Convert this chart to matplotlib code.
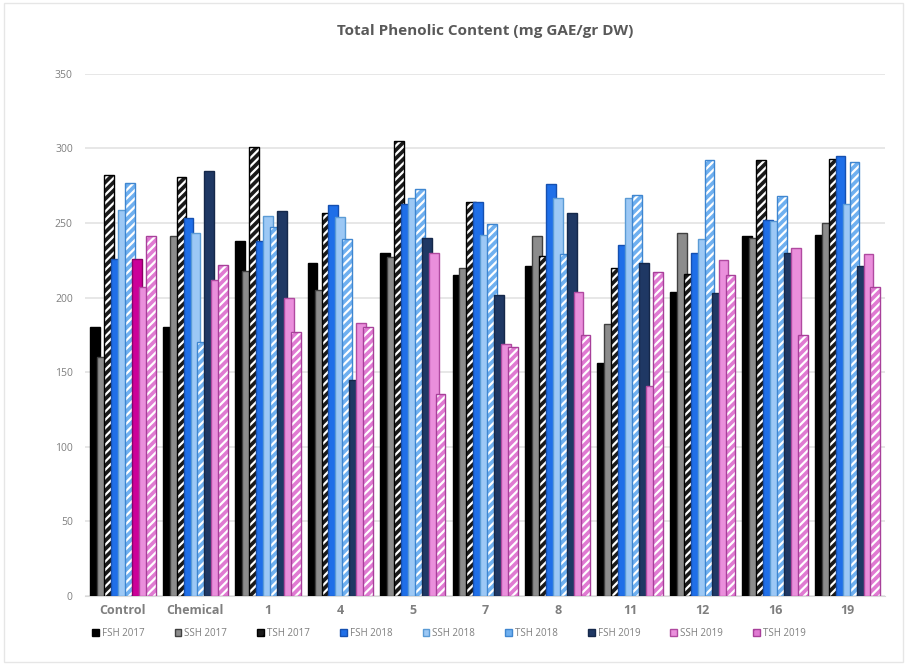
# Total phenolic content grouped bar chart
import matplotlib.pyplot as plt
import numpy as np
from matplotlib.patches import Patch, Rectangle

plt.rcParams['font.family'] = ['Open Sans', 'DejaVu Sans']
plt.rcParams['hatch.linewidth'] = 1.6

# Data
categories = ["Control", "Chemical", "1", "4", "5", "7", "8", "11", "12", "16", "19"]
series_names = ["FSH 2017", "SSH 2017", "TSH 2017", "FSH 2018", "SSH 2018",
                "TSH 2018", "FSH 2019", "SSH 2019", "TSH 2019"]

fsh_2017 = [180, 180, 238, 223, 230, 215, 221, 156, 204, 241, 242]
ssh_2017 = [160, 241, 218, 205, 227, 220, 241, 182, 243, 240, 250]
tsh_2017 = [282, 281, 301, 257, 305, 264, 228, 220, 216, 292, 293]
fsh_2018 = [226, 253, 238, 262, 263, 264, 276, 235, 230, 252, 295]
ssh_2018 = [259, 243, 255, 254, 267, 242, 267, 267, 239, 251, 263]
tsh_2018 = [277, 170, 247, 239, 273, 249, 229, 269, 292, 268, 291]
fsh_2019 = [226, 285, 258, 145, 240, 202, 257, 223, 203, 230, 221]
ssh_2019 = [207, 212, 200, 183, 230, 169, 204, 141, 225, 233, 229]
tsh_2019 = [241, 222, 177, 180, 135, 167, 175, 217, 215, 175, 207]

all_series = [fsh_2017, ssh_2017, tsh_2017, fsh_2018, ssh_2018,
              tsh_2018, fsh_2019, ssh_2019, tsh_2019]

# fill colour, edge colour, hatched or not
styles = [
    ("#000000", "#000000", False),
    ("#8c8c8c", "#404040", False),
    ("#1a1a1a", "#000000", True),
    ("#1f6fe8", "#1550b0", False),
    ("#9cc8f5", "#5b9bd5", False),
    ("#6fb0f0", "#3f86d0", True),
    ("#1f3864", "#15284a", False),
    ("#ea8fdc", "#b04aa0", False),
    ("#e07ad2", "#a8409a", True),
]

x = np.arange(len(categories))
pitch = 0.096
width = 0.135

fig = plt.figure(figsize=(9.07, 6.65), dpi=100)
ax = fig.add_axes([0.094, 0.104, 0.882, 0.785])

for j, (vals, (fc, ec, hatched)) in enumerate(zip(all_series, styles)):
    pos = x + (j - 4) * pitch
    colors = [fc] * len(vals)
    edges = [ec] * len(vals)
    if j == 6:
        # control bar is magenta in the original
        colors[0] = "#cc0099"
        edges[0] = "#8a0066"
    if hatched:
        ax.bar(pos, vals, width, color=colors, edgecolor="white", hatch="////",
               linewidth=0, zorder=3 + j)
        ax.bar(pos, vals, width, fill=False, edgecolor=edges, linewidth=1.0,
               zorder=3 + j)
    else:
        ax.bar(pos, vals, width, color=colors, edgecolor=edges, linewidth=1.0,
               zorder=3 + j)

ax.set_xlim(-0.52, 10.52)
ax.set_ylim(0, 350)
ax.set_yticks(np.arange(0, 351, 50))
ax.set_xticks(x)
ax.set_xticklabels(categories, fontsize=9, fontweight="bold", color="#7f7f7f")
ax.tick_params(axis="y", labelsize=7.5, labelcolor="#7f7f7f", length=0, pad=9)
ax.tick_params(axis="x", length=0, pad=6)
ax.grid(axis="y", color="#e3e3e3", linewidth=1.2, zorder=0)
for side in ["top", "right", "left"]:
    ax.spines[side].set_visible(False)
ax.spines["bottom"].set_color("#d9d9d9")

ax.set_title("Total Phenolic Content (mg GAE/gr DW)", fontsize=11,
             fontweight="bold", color="#595959", pad=28)

handles = []
for name, (fc, ec, hatched) in zip(series_names, styles):
    if hatched:
        handles.append(Patch(facecolor=fc, edgecolor=ec, hatch="//", label=name))
    else:
        handles.append(Patch(facecolor=fc, edgecolor=ec, label=name))
fig.legend(handles=handles, loc="center", bbox_to_anchor=(0.495, 0.048), ncol=9,
           frameon=False, fontsize=7, labelcolor="#7f7f7f", handlelength=0.7,
           handleheight=0.7, handletextpad=0.3, columnspacing=3.1)

# faint outer border
fig.patches.append(Rectangle((0.004, 0.004), 0.992, 0.992, transform=fig.transFigure,
                             fill=False, edgecolor="#e6e6e6", linewidth=1))

plt.savefig("out.png", dpi=100)
